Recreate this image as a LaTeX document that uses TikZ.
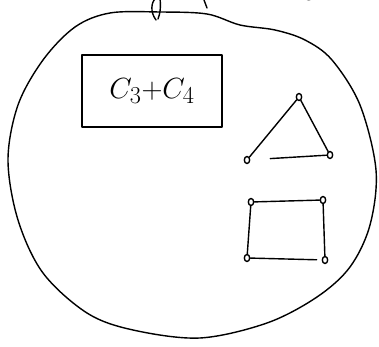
\documentclass[tikz,border=0pt]{standalone}
\usepackage{tikz}
\usetikzlibrary{arrows.meta, positioning, shapes.geometric}

\begin{document}
\begin{tikzpicture}[
    x=0.03cm, y=-0.03cm,
    line width=1.2pt, line cap=round, line join=round,
    vtx/.style={draw, ellipse, inner sep=0pt, minimum width=0.16cm, minimum height=0.21cm},
    label box/.style={draw, minimum width=4.2cm, minimum height=2.15cm, inner sep=0pt,
        font=\fontsize{28}{32}\selectfont}
]
\useasboundingbox (0,0) rectangle (379,347);
\clip (0,0) rectangle (379,347);

% Outline of the region
\draw plot[smooth cycle, tension=0.55] coordinates {
    (110,13) (160,12) (207,14) (240,25) (275,30) (305,40) (332,60) (360,105)
    (376,170) (370,225) (350,267) (317,297) (267,323) (200,338) (133,330)
    (87,313) (43,273) (18,220) (8,160) (18,105) (43,60) (75,27)};

% Cut-off strokes at the top
\draw (156,20) .. controls (150,12) and (151,2) .. (156,-2);
\draw (160,-2) .. controls (161,8) and (160,14) .. (158,19);
\draw (204,0) -- (207,8);
\node[font=\fontsize{28}{32}\selectfont, anchor=base] (top) at (332,-5) {$C_3{+}C_4\,.$};

% Label box
\node[label box] (sum) at (152,91) {$C_3{+}C_4$};

% Triangle C3
\node[vtx] (t1) at (299,97) {};
\node[vtx] (t2) at (247,160) {};
\node[vtx] (t3) at (330,155) {};
\draw (t2) -- (t1);
\draw (t1) -- (t3);
\draw[shorten <=0.6cm] (t2) -- (t3);

% Square C4
\node[vtx] (s1) at (251,202) {};
\node[vtx] (s2) at (323,200) {};
\node[vtx] (s3) at (247,258) {};
\node[vtx] (s4) at (325,260) {};
\draw (s1) -- (s2);
\draw (s1) -- (s3);
\draw (s2) -- (s4);
\draw[shorten >=0.15cm] (s3) -- (s4);

\end{tikzpicture}
\end{document}
